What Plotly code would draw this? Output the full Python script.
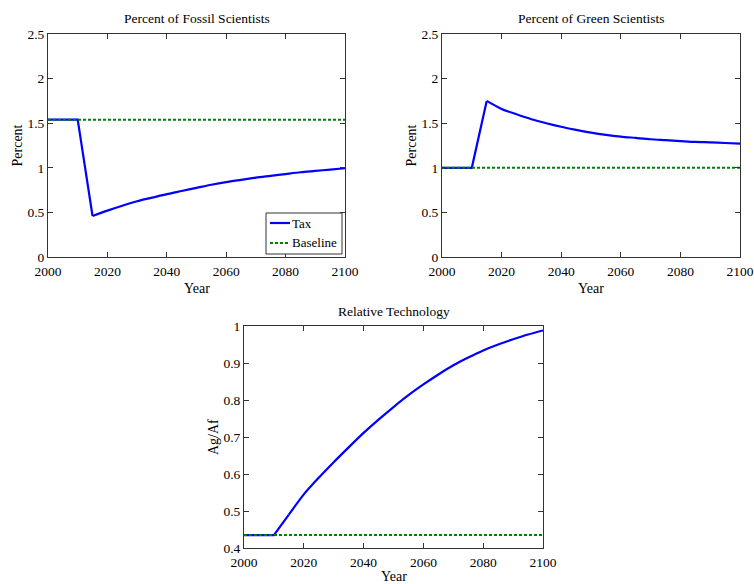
import plotly.graph_objects as go

years = list(range(2000, 2101, 5))

fossil_tax = [1.54, 1.54, 1.54, 0.46, 0.52, 0.575, 0.625, 0.665, 0.705, 0.74, 0.775,
              0.81, 0.84, 0.865, 0.89, 0.91, 0.93, 0.95, 0.965, 0.98, 0.995]
fossil_base = [1.54] * len(years)

green_tax = [1.0, 1.0, 1.0, 1.75, 1.66, 1.60, 1.545, 1.50, 1.46, 1.425, 1.395,
             1.37, 1.35, 1.335, 1.32, 1.31, 1.30, 1.29, 1.285, 1.278, 1.27]
green_base = [1.0] * len(years)

tech_tax = [0.435, 0.435, 0.435, 0.49, 0.545, 0.59, 0.632, 0.672, 0.711, 0.747, 0.781,
            0.813, 0.842, 0.869, 0.894, 0.915, 0.934, 0.950, 0.964, 0.977, 0.988]
tech_base = [0.435] * len(years)

titles = ["Percent of Fossil Scientists", "Percent of Green Scientists", "Relative Technology"]
ylabels = ["Percent", "Percent", "Ag/Af"]
legend_labels = ["Tax", "Baseline"]
x_ticks = [2000, 2020, 2040, 2060, 2080, 2100]
pct_ticks = [0, 0.5, 1, 1.5, 2, 2.5]
tech_ticks = [0.4, 0.5, 0.6, 0.7, 0.8, 0.9, 1]

W, H = 754, 584
FONT = "Liberation Serif"
BLUE = "#0000FF"
GREEN = "#008000"
AXC = "#333333"
K = 3  # index of the kink year (2015)


def px(x):
    return x / W


def py(y):
    return 1 - y / H


fig = go.Figure()

panels = [
    ("x", "y", fossil_tax, fossil_base),
    ("x2", "y2", green_tax, green_base),
    ("x3", "y3", tech_tax, tech_base),
]
for xa, ya, tax, base in panels:
    fig.add_trace(go.Scatter(x=years[:K + 1], y=tax[:K + 1], mode="lines", name=legend_labels[0],
                             xaxis=xa, yaxis=ya, showlegend=False,
                             line=dict(color=BLUE, width=2.2)))
    fig.add_trace(go.Scatter(x=years[K:], y=tax[K:], mode="lines", name=legend_labels[0],
                             xaxis=xa, yaxis=ya, showlegend=False,
                             line=dict(color=BLUE, width=2.2, shape="spline", smoothing=0.8)))
    fig.add_trace(go.Scatter(x=years, y=base, mode="lines", name=legend_labels[1],
                             xaxis=xa, yaxis=ya, showlegend=False,
                             line=dict(color=GREEN, width=2, dash="3px,2px")))

# pixel boxes: (left, right, top, bottom)
boxes = [(48, 345, 34, 257), (442, 740, 34, 257), (244, 543, 326, 548)]

axis_common = dict(showgrid=False, zeroline=False, showline=True, linecolor=AXC, linewidth=1,
                   mirror="ticks", ticks="inside", ticklen=5, tickcolor=AXC, automargin=False,
                   ticklabeloverflow="allow",
                   tickfont=dict(family=FONT, size=13.5, color="black"))

layout_axes = {}
names = [("xaxis", "yaxis"), ("xaxis2", "yaxis2"), ("xaxis3", "yaxis3")]
anchors = [("y", "x"), ("y2", "x2"), ("y3", "x3")]
for i, (b, (xn, yn), (xanc, yanc)) in enumerate(zip(boxes, names, anchors)):
    layout_axes[xn] = dict(domain=[px(b[0]), px(b[1])], anchor=xanc, range=[2000, 2100],
                           tickvals=x_ticks, ticktext=[str(t) for t in x_ticks],
                           ticklabelstandoff=2, **axis_common)
    if i < 2:
        layout_axes[yn] = dict(domain=[py(b[3]), py(b[2])], anchor=yanc, range=[0, 2.5],
                               tickvals=pct_ticks, ticktext=["0", "0.5", "1", "1.5", "2", "2.5"],
                               **axis_common)
    else:
        layout_axes[yn] = dict(domain=[py(b[3]), py(b[2])], anchor=yanc, range=[0.4, 1.0],
                               tickvals=tech_ticks,
                               ticktext=["0.4", "0.5", "0.6", "0.7", "0.8", "0.9", "1"],
                               **axis_common)

annotations = []
for b, t, yl in zip(boxes, titles, ylabels):
    cx = px((b[0] + b[1]) / 2)
    annotations.append(dict(text=t, x=cx, y=py(b[2] - 15), xref="paper", yref="paper",
                            showarrow=False, font=dict(family=FONT, size=13.5, color="black"),
                            xanchor="center", yanchor="middle"))
    annotations.append(dict(text="Year", x=cx, y=py(min(b[3] + 32, 576)), xref="paper", yref="paper",
                            showarrow=False, font=dict(family=FONT, size=14, color="black"),
                            xanchor="center", yanchor="middle"))
    annotations.append(dict(text=yl, x=px(b[0] - 31), y=py((b[2] + b[3]) / 2), xref="paper",
                            yref="paper", showarrow=False, textangle=-90,
                            font=dict(family=FONT, size=14, color="black"),
                            xanchor="center", yanchor="middle"))

# legend box for the first panel (drawn in paper space)
LX0, LX1, LY0, LY1 = 266, 342, 213, 254
shapes = [
    dict(type="rect", xref="paper", yref="paper", x0=px(LX0), x1=px(LX1), y0=py(LY1), y1=py(LY0),
         line=dict(color=AXC, width=1), fillcolor="white", layer="above"),
    dict(type="line", xref="paper", yref="paper", x0=px(270), x1=px(290), y0=py(223), y1=py(223),
         line=dict(color=BLUE, width=2.2), layer="above"),
    dict(type="line", xref="paper", yref="paper", x0=px(270), x1=px(290), y0=py(243), y1=py(243),
         line=dict(color=GREEN, width=2, dash="3px,2px"), layer="above"),
]
for lab, yy in zip(legend_labels, [223, 243]):
    annotations.append(dict(text=lab, x=px(290), y=py(yy), xref="paper", yref="paper",
                            showarrow=False, font=dict(family=FONT, size=13, color="black"),
                            xanchor="left", yanchor="middle"))

fig.update_layout(
    template="none",
    width=W, height=H,
    margin=dict(l=0, r=0, t=0, b=0, autoexpand=False),
    paper_bgcolor="white", plot_bgcolor="white",
    font=dict(family=FONT, size=14, color="black"),
    showlegend=False,
    hovermode=False,
    annotations=annotations,
    shapes=shapes,
    **layout_axes,
)

fig.write_html(
    "out.html",
    config={"displayModeBar": False, "staticPlot": True},
    post_script="document.body.style.margin='0';document.documentElement.style.overflow='hidden';",
)
